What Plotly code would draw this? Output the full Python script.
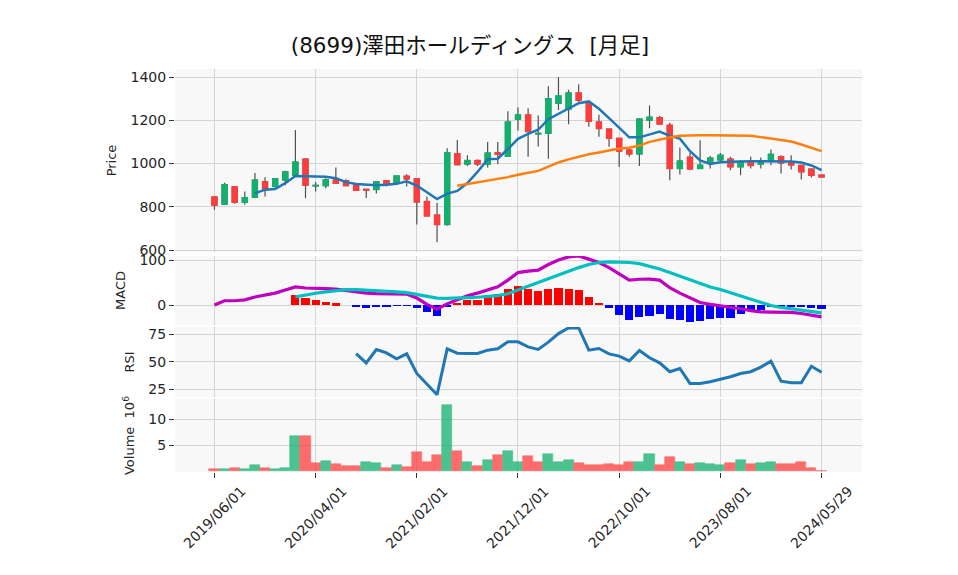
import pandas as pd
import plotly.graph_objects as go
from plotly.subplots import make_subplots

# ---------------- data ----------------
dates = [d.strftime("%Y/%m/%d") for d in pd.date_range("2019-06-01", periods=60, freq="MS")] + ["2024/05/29"]

open_ = [845, 812, 892, 821, 844, 915, 894, 924, 945, 1020,
         897, 898, 923, 920, 900, 880, 880, 920, 908, 941,
         929, 824, 761, 718, 1045, 998, 1014, 997, 1049, 1034,
         1205, 1224, 1137, 1140, 1279, 1252, 1326, 1281, 1191, 1159,
         1116, 1062, 1045, 1201, 1212, 1177, 977, 1029, 977, 1008,
         1017, 1020, 985, 1005, 998, 1012, 1032, 1003, 991, 974,
         946]
high = [848, 911, 895, 870, 956, 936, 933, 967, 1155, 1024,
        914, 932, 982, 927, 901, 880, 918, 923, 942, 950,
        929, 848, 818, 1071, 1109, 1038, 1018, 1100, 1100, 1242,
        1259, 1255, 1222, 1357, 1400, 1341, 1366, 1281, 1225, 1159,
        1116, 1069, 1211, 1268, 1220, 1188, 1074, 1051, 1108, 1035,
        1049, 1031, 1015, 1031, 1028, 1065, 1038, 1038, 991, 974,
        946]
low = [786, 810, 814, 809, 839, 847, 889, 900, 945, 839,
       871, 886, 908, 898, 876, 841, 861, 894, 908, 894,
       718, 758, 636, 712, 995, 989, 989, 981, 997, 1031,
       1153, 1031, 1079, 1022, 1247, 1182, 1275, 1170, 1124, 1077,
       985, 1031, 988, 1163, 1183, 923, 949, 969, 977, 977,
       1012, 969, 946, 977, 977, 992, 954, 972, 926, 935,
       938]
close = [808, 902, 821, 842, 923, 883, 929, 961, 1006, 900,
         899, 924, 908, 898, 876, 877, 915, 905, 942, 929,
         823, 758, 718, 1050, 995, 1014, 998, 1048, 1043, 1191,
         1224, 1148, 1139, 1300, 1312, 1326, 1292, 1195, 1162, 1116,
         1058, 1045, 1205, 1214, 1183, 977, 1011, 975, 992, 1025,
         1038, 985, 1005, 991, 1003, 1042, 1003, 994, 962, 945,
         938]

ma5 = [None] * 4 + [862, 879, 882, 909, 942, 941, 941, 939, 932, 914,
                    905, 903, 900, 902, 906, 918, 898, 867, 836, 861,
                    873, 910, 961, 1020, 1022, 1067, 1114, 1137, 1156, 1205,
                    1230, 1255, 1279, 1287, 1253, 1210, 1164, 1121, 1121, 1134,
                    1148, 1128, 1115, 1057, 1014, 998, 1006, 1008, 1011, 1011,
                    1011, 1011, 1011, 1009, 1005, 991, 969]
ma25 = [None] * 24 + [897, 905, 911, 918, 927, 937, 948, 958, 966, 986,
                      1005, 1019, 1032, 1043, 1051, 1060, 1069, 1073, 1083, 1100,
                      1111, 1120, 1128, 1131, 1131, 1131, 1131, 1129, 1129, 1128,
                      1122, 1115, 1108, 1102, 1088, 1072, 1057]

macd = [0.7, 10, 10, 12, 18.5, 23, 27, 34, 41, 38.5,
        37, 37, 36, 33, 30, 27, 26, 26, 25, 25,
        16, 2, -9, 3, 12, 21, 27, 34, 41, 56,
        73, 76, 78.5, 91, 101, 108, 110, 103, 95.5, 84,
        70, 56, 58, 58.5, 56, 39, 27, 15.5, 6, 2,
        -1, -4.5, -8, -12, -15, -15.5, -15.5, -16, -18.5, -21.5,
        -26]
signal = [None] * 8 + [18.5, 23, 26.7, 30, 33, 35, 35, 34, 33, 32,
                       30, 28, 24.5, 20, 16, 15.5, 15.5, 17, 17.8, 19,
                       21.5, 25.5, 34, 41.5, 49.6, 58.5, 67, 76, 84, 91,
                       95.5, 97, 97, 95.5, 93, 87, 81, 73, 65, 56,
                       47.4, 40.7, 35, 28, 21, 13, 6, -0.7, -5, -8,
                       -11, -14, -17]
hist = [None] * 8 + [22, 16, 11, 8, 4, 0, -3, -7, -5, -5,
                     -1.5, -1.5, -7, -16, -24, -5, 6, 12, 12, 23,
                     25, 36, 43, 37, 32, 37, 39, 37, 33, 18.5,
                     5, -7, -21, -33, -27, -24, -19, -30, -33, -36.5,
                     -35.5, -31.5, -27.5, -27.5, -20.5, -13, -10.5, -4.5, -4.5, -4.5,
                     -4.5, -6.7, -7.4]

rsi = [None] * 14 + [57.6, 49, 61.3, 58.2, 52.7, 57.3, 39.3, 29.3, 19.8, 61.9,
                     57.9, 57.6, 57.6, 60.7, 61.9, 68.3, 68.3, 63.7, 61.3, 68,
                     75.9, 81.1, 81.1, 60.7, 62.2, 57.3, 55.2, 50.9, 60.4, 53.7,
                     49.1, 40.9, 43.9, 30.2, 30.2, 31.7, 33.8, 36.3, 39.3, 40.9,
                     45.1, 50.6, 32.3, 30.8, 30.8, 46, 40.5]

volume = [0.4, 0.4, 0.6, 0.4, 1.15, 0.65, 0.4, 0.6, 6.8, 6.8,
          1.55, 2.0, 1.35, 1.0, 1.0, 1.8, 1.6, 0.65, 1.2, 0.8,
          3.65, 1.9, 3.1, 12.7, 3.85, 1.8, 1.0, 2.2, 3.1, 3.9,
          1.9, 2.9, 1.9, 3.3, 1.9, 2.1, 1.6, 1.15, 1.15, 1.35,
          1.15, 1.8, 1.9, 3.3, 1.15, 2.7, 1.8, 1.35, 1.55, 1.35,
          1.15, 1.55, 2.1, 1.35, 1.55, 1.8, 1.35, 1.35, 1.8, 0.6,
          0.05]

tick_idx = [0, 10, 20, 30, 40, 50, 60]
title_text = "(8699)澤田ホールディングス  [月足]"

# ---------------- styling ----------------
GREEN = "#12b06c"
RED = "#ff3c3c"
WICK = "#505050"
FONT = "DejaVu Sans, Noto Sans CJK JP"
TXT = "#262626"

body_hi = [max(o, c) for o, c in zip(open_, close)]
body_lo = [min(o, c) for o, c in zip(open_, close)]
vol_colors = [RED] + [GREEN if close[i] > close[i - 1] else RED for i in range(1, len(close))]
hist_colors = ["#ff0000" if (h is not None and h > 0) else "#0000ff" for h in hist]

fig = make_subplots(rows=4, cols=1, shared_xaxes=True, vertical_spacing=0.01)

# wicks (gray) then coloured bodies
fig.add_trace(go.Candlestick(x=dates, open=open_, high=high, low=low, close=close,
                             increasing=dict(line=dict(color=WICK, width=1.2), fillcolor=WICK),
                             decreasing=dict(line=dict(color=WICK, width=1.2), fillcolor=WICK),
                             whiskerwidth=0, showlegend=False, hoverinfo="skip"), row=1, col=1)
fig.add_trace(go.Candlestick(x=dates, open=open_, high=body_hi, low=body_lo, close=close,
                             increasing=dict(line=dict(color=GREEN, width=1.4), fillcolor=GREEN),
                             decreasing=dict(line=dict(color=RED, width=1.4), fillcolor=RED),
                             whiskerwidth=0, showlegend=False), row=1, col=1)
fig.add_trace(go.Scatter(x=dates, y=ma5, mode="lines", line=dict(color="#1f77b4", width=2.5),
                         showlegend=False), row=1, col=1)
fig.add_trace(go.Scatter(x=dates, y=ma25, mode="lines", line=dict(color="#ff7f0e", width=2.5),
                         showlegend=False), row=1, col=1)

# MACD
fig.add_trace(go.Bar(x=dates, y=hist, marker=dict(color=hist_colors, line=dict(width=0)),
                     width=0.8, showlegend=False), row=2, col=1)
fig.add_trace(go.Scatter(x=dates, y=macd, mode="lines", line=dict(color="#bf00bf", width=3.2),
                         showlegend=False), row=2, col=1)
fig.add_trace(go.Scatter(x=dates, y=signal, mode="lines", line=dict(color="#00bfbf", width=3.2),
                         showlegend=False), row=2, col=1)

# RSI
fig.add_trace(go.Scatter(x=dates, y=rsi, mode="lines", line=dict(color="#1f77b4", width=3),
                         showlegend=False), row=3, col=1)

# Volume
fig.add_trace(go.Bar(x=dates, y=volume, marker=dict(color=vol_colors, line=dict(color=vol_colors, width=0.6)),
                     opacity=0.75, width=1.0, showlegend=False), row=4, col=1)

grid = "#d4d4d4"
tickvals = [dates[i] for i in tick_idx]
for r in range(1, 5):
    fig.update_xaxes(type="category", range=[-3.9, 64.0], tickvals=tickvals, ticktext=tickvals,
                     showgrid=True, gridcolor=grid, gridwidth=1, zeroline=False,
                     rangeslider_visible=False, showline=False, row=r, col=1)
for r in (1, 2, 3):
    fig.update_xaxes(showticklabels=False, ticks="", row=r, col=1)
fig.update_xaxes(showticklabels=False, ticks="outside", ticklen=5, tickcolor="#333", row=4, col=1)

# rotated date labels centred on their tick (like the reference)
for lab in tickvals:
    fig.add_annotation(x=lab, xref="x4", y=-0.1117, yref="paper", text=lab, textangle=-45,
                       showarrow=False, xanchor="center", yanchor="middle",
                       font=dict(size=14, color=TXT, family=FONT))

yax_common = dict(showgrid=True, gridcolor=grid, gridwidth=1, zeroline=False, ticks="outside",
                  ticklen=5, tickcolor="#333", tickfont=dict(size=14, color=TXT), showline=False)
fig.update_yaxes(**yax_common)
tfont = dict(size=13, color=TXT)
fig.update_yaxes(range=[591, 1437], tickvals=[600, 800, 1000, 1200, 1400],
                 title=dict(text="Price", font=tfont, standoff=10), row=1, col=1)
fig.update_yaxes(range=[-44, 110], tickvals=[0, 100],
                 title=dict(text="MACD", font=tfont, standoff=10), row=2, col=1)
fig.update_yaxes(range=[17.7, 82], tickvals=[25, 50, 75],
                 title=dict(text="RSI", font=tfont, standoff=10), row=3, col=1)
fig.update_yaxes(range=[-0.1, 13.9], tickvals=[5, 10],
                 title=dict(text="Volume  10<sup>6</sup>", font=tfont, standoff=10),
                 row=4, col=1)

# page body has an 8px margin, so the figure is sized 950x567 to end at the window edge
fig.update_layout(
    width=950, height=567,
    margin=dict(l=167, r=96, t=61, b=103, autoexpand=False),
    paper_bgcolor="white", plot_bgcolor="#f8f8f8",
    font=dict(family=FONT, color=TXT),
    title=dict(text=title_text, x=462 / 950, xanchor="center", y=1 - 37 / 567, yanchor="middle",
               yref="container", font=dict(size=21.5, color="#111", family=FONT)),
    yaxis=dict(domain=[0.546, 1.0]),
    yaxis2=dict(domain=[0.365, 0.536]),
    yaxis3=dict(domain=[0.186, 0.360]),
    yaxis4=dict(domain=[0.0, 0.181]),
    boxgap=0.3, bargap=0, barmode="overlay",
    hovermode=False,
)

fig.write_html("out.html")
